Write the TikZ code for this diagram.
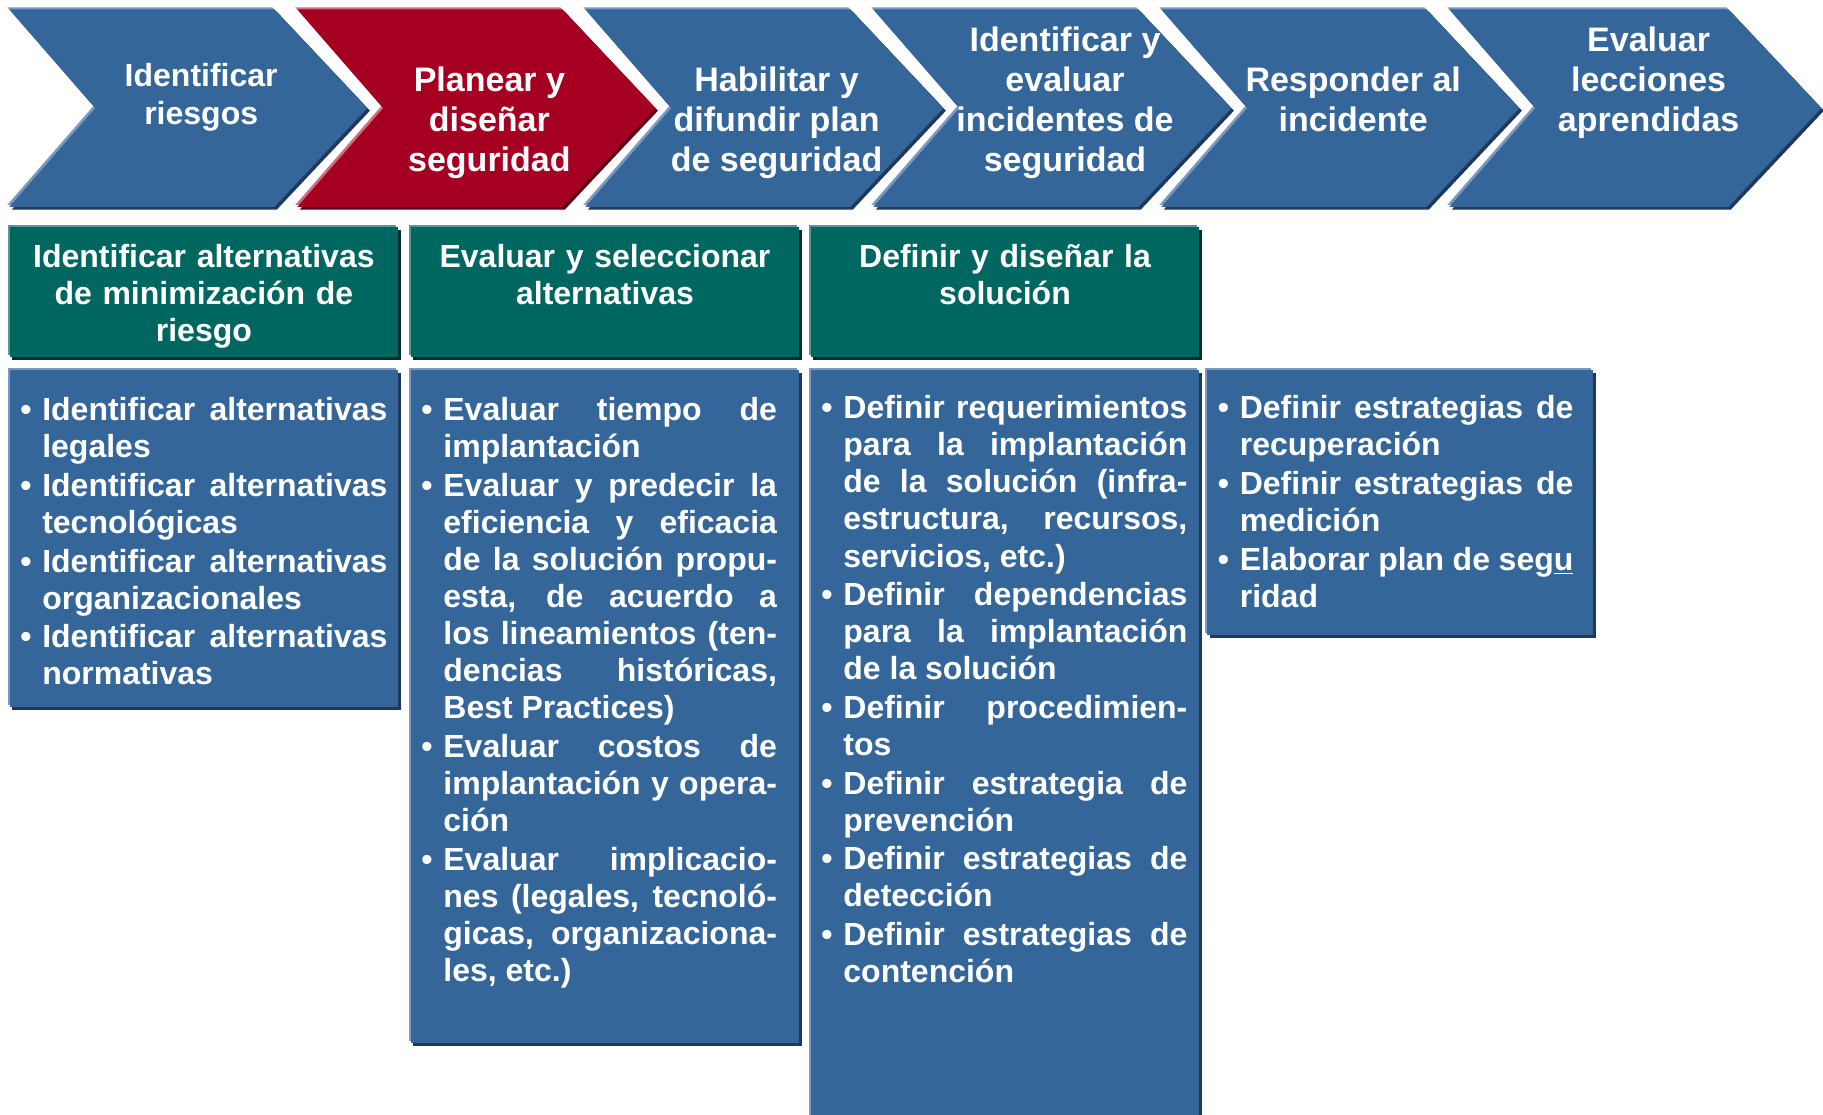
\documentclass[tikz,border=0pt]{standalone}
\usepackage{fontspec}
\setmainfont{Liberation Sans}
\usetikzlibrary{positioning}

\definecolor{stepblue}{RGB}{52,102,153}
\definecolor{stepbluedark}{RGB}{30,57,92}
\definecolor{stepbluelight}{RGB}{122,153,192}
\definecolor{stepred}{RGB}{165,0,33}
\definecolor{stepreddark}{RGB}{96,0,20}
\definecolor{stepredlight}{RGB}{206,110,125}
\definecolor{headgreen}{RGB}{0,102,96}
\definecolor{headgreendark}{RGB}{0,48,46}
\definecolor{headgreenlight}{RGB}{92,150,146}

\tolerance=10000
\hyphenpenalty=10000
\hbadness=10000

\newlength{\hangw}
\setlength{\hangw}{11pt}
\newcommand{\bitem}[1]{\hangindent=\hangw\hangafter=1\makebox[\hangw][l]{\textbullet}#1\par\vspace{0.75pt}}
\newcommand{\bodyfont}{\fontsize{16}{18.55}\selectfont\bfseries}

\def\chevronlist{{4.65/132.5/stepblue}, {148.65/132.5/stepred}, {292.65/132.5/stepblue},
  {436.65/132.5/stepblue}, {580.65/132.5/stepblue}, {724.65/139.5/stepblue}}

\tikzset{raised/.style={
  preaction={fill=#1light, transform canvas={xshift=-1pt,yshift=1pt}},
  preaction={fill=#1dark, transform canvas={xshift=1.3pt,yshift=-1.3pt}},
  fill=#1}}
\tikzstyle{steplabel}=[text=white, font=\fontsize{17}{20}\selectfont\bfseries, align=center, inner sep=0pt]
\tikzstyle{headbox}=[raised=headgreen, anchor=north west, minimum width=194.2pt, minimum height=65.1pt, inner sep=0pt]
\tikzstyle{headtext}=[text=white, font=\fontsize{16}{18.6}\selectfont\bfseries, align=center, text width=190pt, text height=12pt, inner sep=0pt]
\tikzstyle{bodybox}=[raised=stepblue, anchor=north west, minimum width=194.2pt, inner sep=0pt]
\tikzstyle{bodytext}=[text=white, font=\bodyfont, align=justify, text height=12pt, inner sep=0pt]

\begin{document}
\begin{tikzpicture}[x=1pt, y=-1pt]
  \useasboundingbox (0,0) rectangle (911.5,557);

  % First we draw the chevrons of the process
  \foreach \x/\w/\col in \chevronlist
    \path[raised=\col] (\x,4.65) -- ++(\w,0) -- ++(46.5,49.4) -- ++(-46.5,49.4)
      -- ++(-\w,0) -- ++(43,-49.4) -- cycle;

  % Labels of the chevrons
  \node[steplabel, font=\fontsize{16}{18.6}\selectfont\bfseries] (s1) at (100.6,48.6) {Identificar\\riesgos};
  \node[steplabel] (s2) at (244.7,61.4) {Planear y\\diseñar\\seguridad};
  \node[steplabel] (s3) at (388.3,61.4) {Habilitar y\\difundir plan\\de seguridad};
  \node[steplabel] (s4) at (532.5,51.3) {Identificar y\\evaluar\\incidentes de\\seguridad};
  \node[steplabel] (s5) at (676.6,49.9) {Responder al\\incidente};
  \node[steplabel] (s6) at (824.3,41.6) {Evaluar\\lecciones\\aprendidas};

  % Green headers
  \node[headbox] (h1) at (4.65,113.4) {};
  \node[headbox] (h2) at (205.2,113.4) {};
  \node[headbox] (h3) at (405.2,113.4) {};
  \node[headtext, below=8.1pt of h1.north] (ht1) {Identificar alternativas\\de minimización de\\riesgo};
  \node[headtext, below=8.1pt of h2.north] (ht2) {Evaluar y seleccionar\\alternativas};
  \node[headtext, below=8.1pt of h3.north] (ht3) {Definir y diseñar la\\solución};

  % Blue boxes with the activities
  \node[bodybox, minimum height=168.5pt] (b1) at (4.65,184.9) {};
  \node[bodybox, minimum height=336.5pt] (b2) at (205.2,184.9) {};
  \node[bodybox, minimum height=385pt] (b3) at (405.2,184.9) {};
  \node[bodybox, minimum width=193pt, minimum height=132.5pt] (b4) at (603.4,184.9) {};

  \node[bodytext, text width=183.6pt, below right=13.2pt and 5.3pt of b1.north west] (t1) {%
    \bitem{Identificar alternativas\linebreak legales}
    \bitem{Identificar alternativas\linebreak tecnológicas}
    \bitem{Identificar alternativas\linebreak organizacionales}
    \bitem{Identificar alternativas\linebreak normativas}};
  \node[bodytext, text width=177.8pt, below right=13.2pt and 5.3pt of b2.north west] (t2) {%
    \bitem{Evaluar tiempo de\linebreak implantación}
    \bitem{Evaluar y predecir la\linebreak eficiencia y eficacia\linebreak de la solución propu-\linebreak esta, de acuerdo a\linebreak los lineamientos (ten-\linebreak dencias históricas,\linebreak Best Practices)}
    \bitem{Evaluar costos de\linebreak implantación y opera-\linebreak ción}
    \bitem{Evaluar implicacio-\linebreak nes (legales, tecnoló-\linebreak gicas, organizaciona-\linebreak les, etc.)}};
  \node[bodytext, text width=183pt, below right=12.2pt and 5.3pt of b3.north west] (t3) {%
    \bitem{Definir requerimientos\linebreak para la implantación\linebreak de la solución (infra-\linebreak estructura, recursos,\linebreak servicios, etc.)}
    \bitem{Definir dependencias\linebreak para la implantación\linebreak de la solución}
    \bitem{Definir procedimien-\linebreak tos}
    \bitem{Definir estrategia de\linebreak prevención}
    \bitem{Definir estrategias de\linebreak detección}
    \bitem{Definir estrategias de\linebreak contención}};
  \node[bodytext, text width=177.8pt, below right=12.2pt and 5.3pt of b4.north west] (t4) {%
    \bitem{Definir estrategias de\linebreak recuperación}
    \bitem{Definir estrategias de\linebreak medición}
    \bitem{Elaborar plan de seg\underline{u}\linebreak ridad}};
\end{tikzpicture}
\end{document}
